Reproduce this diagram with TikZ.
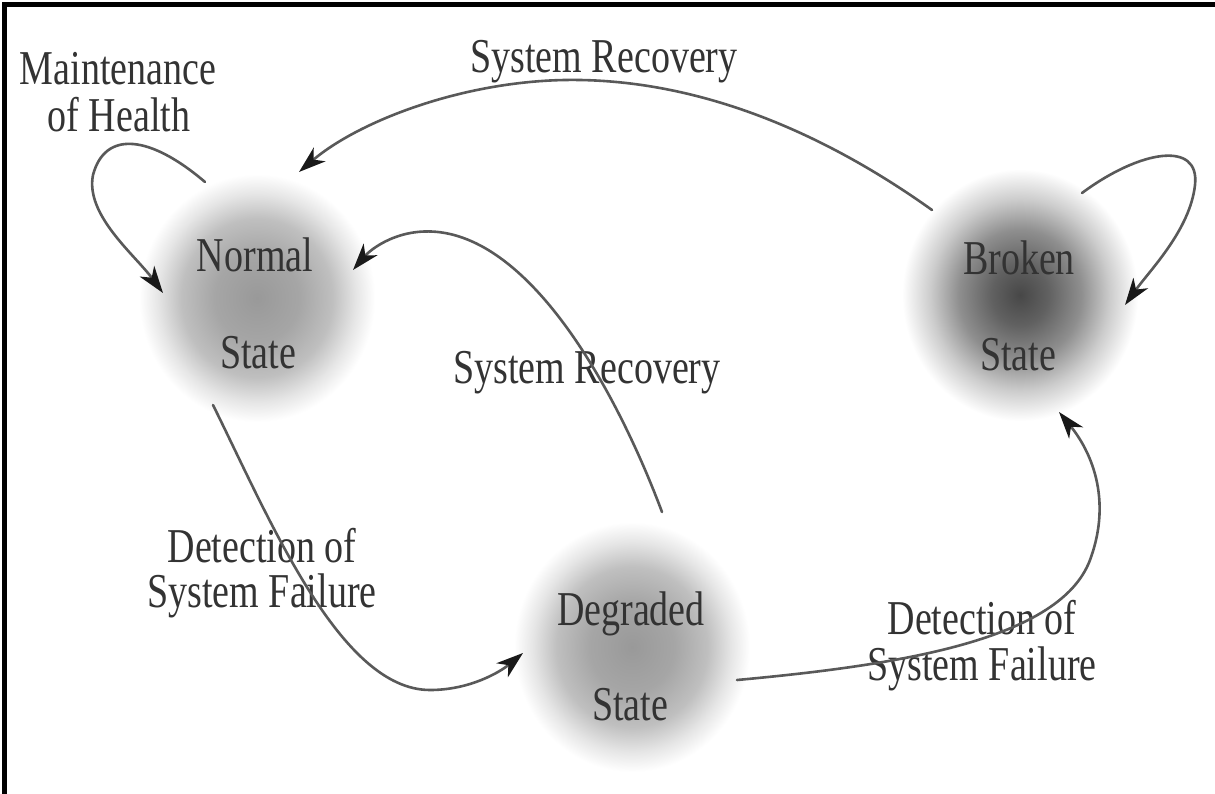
\documentclass[tikz,border=0pt]{standalone}
\usepackage{fontspec}
\setmainfont{Liberation Serif}
\usepackage{graphicx}
\usetikzlibrary{shapes.geometric,arrows.meta,calc}

% soft grey halo for the states, and a darker one for the broken state
\pgfdeclareradialshading{softblob}{\pgfpoint{0bp}{0bp}}{color(0bp)=(black!40); color(9bp)=(black!35); color(16bp)=(black!25); color(21bp)=(black!10); color(25bp)=(white); color(50bp)=(white)}
\pgfdeclareradialshading{darkblob}{\pgfpoint{0bp}{0bp}}{color(0bp)=(black!72); color(6bp)=(black!62); color(13bp)=(black!44); color(19bp)=(black!20); color(25bp)=(white); color(50bp)=(white)}

% tall serif lettering
\newcommand{\tall}[1]{\scalebox{1}[1.28]{#1}}

\begin{document}
\begin{tikzpicture}[x=1pt,y=-1pt,
  blob/.style={ellipse, shade, shading=softblob, inner sep=0pt,
               minimum width=236pt, minimum height=248pt},
  txt/.style={anchor=base, inner sep=0pt, text=black!80,
              font=\fontsize{38}{40}\selectfont},
  conn/.style={draw=black!65, line width=2.6pt, line cap=round,
               -{Stealth[length=27pt,width=18pt,inset=8pt,color=black!90]}}]

\useasboundingbox (0,0) rectangle (1215,794);
\fill[white] (0,0) rectangle (1215,794);

% frame (top and left edges)
\fill[black] (2,2) rectangle (1215,7);
\fill[black] (2,2) rectangle (7,794);

% states
\node[blob] (normal) at (257,298) {};
\node[blob, shading=darkblob, minimum height=252pt] (broken) at (1020,295) {};
\node[blob, minimum height=250pt] (degraded) at (632,647) {};

% state names
\node[txt] (tnormal)  at (255,272) {\tall{Normal}};
\node[txt] (tnstate)  at (258,368) {\tall{State}};
\node[txt] (tbroken)  at (1019,275) {\tall{Broken}};
\node[txt] (tbstate)  at (1018,370) {\tall{State}};
\node[txt] (tdegr)    at (631,625) {\tall{Degraded}};
\node[txt] (tdstate)  at (630,720) {\tall{State}};

% transition labels
\node[txt] (lmaint1) at (118,85)  {\tall{Maintenance}};
\node[txt] (lmaint2) at (119,132) {\tall{of Health}};
\node[txt] (lrec1)   at (604,73)  {\tall{System Recovery}};
\node[txt] (lrec2)   at (587,383) {\tall{System Recovery}};
\node[txt] (ldet1a)  at (262,562) {\tall{Detection of}};
\node[txt] (ldet1b)  at (262,607) {\tall{System Failure}};
\node[txt] (ldet2a)  at (982,634) {\tall{Detection of}};
\node[txt] (ldet2b)  at (982,680) {\tall{System Failure}};

% maintenance loop on the normal state
\draw[conn] ($(normal)+(-52,-116)$) .. controls (150,135) and (105,130) .. (93,175)
            .. controls (85,215) and (135,255) .. ($(normal)+(-94,-5)$);

% broken -> normal (recovery)
\draw[conn] ($(broken)+(-88,-85)$) .. controls (820,130) and (700,82) .. (580,80)
            .. controls (470,78) and (360,120) .. ($(normal)+(42,-126)$);

% loop on the broken state
\draw[conn] ($(broken)+(62,-102)$) .. controls (1140,150) and (1200,140) .. (1195,185)
            .. controls (1190,230) and (1150,270) .. ($(broken)+(105,10)$);

% degraded -> normal (recovery)
\draw[conn] ($(degraded)+(30,-135)$) .. controls (620,400) and (540,250) .. (445,233)
            .. controls (400,225) and (370,250) .. ($(normal)+(96,-28)$);

% normal -> degraded (failure detected)
\draw[conn] ($(normal)+(-44,107)$) .. controls (270,520) and (340,690) .. (430,690)
            .. controls (470,690) and (500,672) .. ($(degraded)+(-109,6)$);

% degraded -> broken (failure detected)
\draw[conn] ($(degraded)+(105,33)$) .. controls (900,665) and (1060,640) .. (1090,560)
            .. controls (1113,498) and (1090,450) .. ($(broken)+(39,117)$);

\end{tikzpicture}
\end{document}
